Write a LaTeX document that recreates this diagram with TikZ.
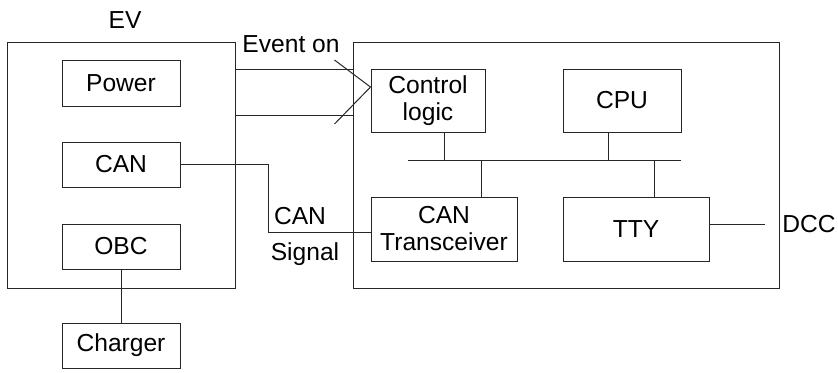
\documentclass[tikz,border=0pt]{standalone}
\usepackage{fontspec}
\setmainfont{Liberation Sans}
\begin{document}
\begin{tikzpicture}[x=0.5pt,y=-0.5pt,
  every node/.style={font=\fontsize{12.3}{13.5}\selectfont, inner sep=0pt},
  wire/.style={line width=0.5pt, draw=black!85},
  blk/.style={draw=black!85, line width=0.5pt, align=center},
  lbl/.style={align=center}]
\useasboundingbox (0,0) rectangle (838,372);

% outer enclosures
\node[blk, minimum width=114pt, minimum height=123pt] (ev) at (121,165) {};
\node[blk, minimum width=213pt, minimum height=123pt] (dcc) at (566,165) {};
\node[lbl] (evlbl) at (125,20) {EV};

% EV modules
\node[blk, minimum width=59pt, minimum height=23pt] (power) at (121,83) {Power};
\node[blk, minimum width=59pt, minimum height=22.5pt] (can) at (121,164.5) {CAN};
\node[blk, minimum width=59pt, minimum height=22.5pt] (obc) at (121,246.5) {OBC};
\node[blk, minimum width=59pt, minimum height=22.5pt] (charger) at (121,345.5) {Charger};

% controller modules
\node[blk, minimum width=57pt, minimum height=31.5pt] (ctrl) at (428,100.5) {Control\\logic};
\node[blk, minimum width=59pt, minimum height=31.5pt] (cpu) at (622,100.5) {CPU};
\node[blk, minimum width=73pt, minimum height=32pt] (trx) at (444,229) {CAN\\Transceiver};
\node[blk, minimum width=73pt, minimum height=32pt] (tty) at (636,229) {TTY};

% labels
\node[lbl] (evtlbl) at (291,44) {Event on};
\node[lbl] (canlbl) at (300,216) {CAN};
\node[lbl] (siglbl) at (305,254) {Signal};
\node[lbl, anchor=west] (dcclbl) at (782,224) {DCC};

% internal bus
\coordinate (busL) at (408,160);
\coordinate (busR) at (681,160);
\draw[wire] (busL) -- (busR);
\coordinate (b1) at (444,160);
\coordinate (b2) at (608,160);
\coordinate (b3) at (481,160);
\coordinate (b4) at (654,160);
\draw[wire] (b1) -- (b1 |- ctrl.south);
\draw[wire] (b2) -- (b2 |- cpu.south);
\draw[wire] (b3) -- (b3 |- trx.north);
\draw[wire] (b4) -- (b4 |- tty.north);

% event-on signal lines into the control logic
\coordinate (tip) at ([yshift=6.75pt]ctrl.west);
\coordinate (e1) at ([yshift=48pt]ev.east);
\coordinate (e2) at ([yshift=25pt]ev.east);
\draw[wire] (e1) -- (e1 -| dcc.west);
\draw[wire] (e2) -- (e2 -| dcc.west);
\draw[wire] ([shift={(-18pt,13.5pt)}]tip) -- (tip) -- ([shift={(-18pt,-18.5pt)}]tip);

% CAN signal path
\coordinate (k1) at (268,164.5);
\coordinate (k2) at (268,232);
\draw[wire] (can.east) -- (k1) -- (k2) -- (k2 -| trx.west);

% OBC to charger
\draw[wire] (obc.south) -- (charger.north);

% TTY to DCC line
\coordinate (d1) at (709,224);
\coordinate (d2) at (765,224);
\draw[wire] (d1) -- (d2);
\end{tikzpicture}
\end{document}
